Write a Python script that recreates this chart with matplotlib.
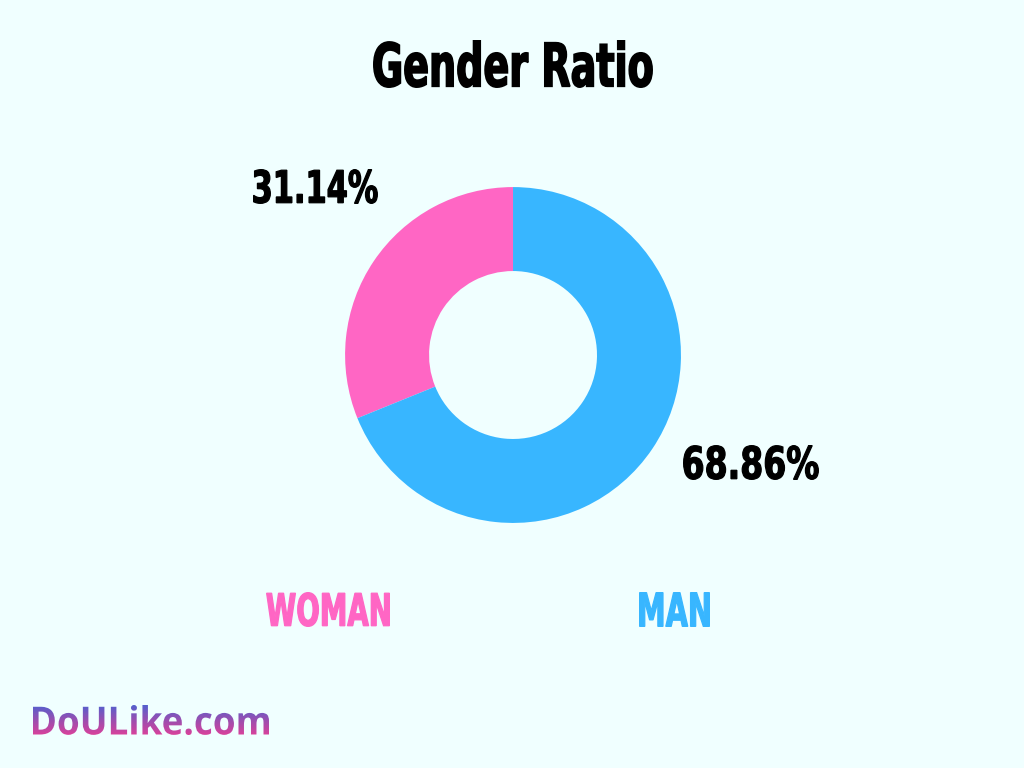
import numpy as np
import matplotlib
matplotlib.use("Agg")
import matplotlib.pyplot as plt
from matplotlib.textpath import TextPath
from matplotlib.font_manager import FontProperties
from matplotlib.patches import PathPatch
from matplotlib.transforms import Affine2D

labels = ["WOMAN", "MAN"]
shares = [31.14, 68.86]
colors = ["#ff66c4", "#38b6ff"]
bg = "#f0ffff"

fig = plt.figure(figsize=(10.24, 7.68), dpi=100, facecolor=bg)

# donut
ax = fig.add_axes([0.337, 0.319, 0.328, 0.4375])
ax.set_facecolor(bg)
ax.pie(shares, colors=colors, startangle=90, counterclock=True,
       radius=1.0, wedgeprops=dict(width=0.5, linewidth=0))
ax.set_xlim(-1, 1)
ax.set_ylim(-1, 1)
ax.set_aspect("equal")
ax.axis("off")

# overlay in pixel units for the condensed text
lax = fig.add_axes([0, 0, 1, 1], facecolor="none")
lax.set_xlim(0, 1024)
lax.set_ylim(768, 0)
lax.axis("off")

bold = FontProperties(family="DejaVu Sans", weight="bold")


def boxed_text(s, x0, x1, ytop, ybot, prop=bold):
    # text as a path squeezed into a pixel box (y measured from the top)
    tp = TextPath((0, 0), s, size=50, prop=prop)
    e = tp.get_extents()
    sx = (x1 - x0) / e.width
    sy = (ybot - ytop) / e.height
    tr = Affine2D().translate(-e.x0, -e.y0).scale(sx, -sy).translate(x0, ybot)
    return tp.transformed(tr)


def put(s, box, color, lw=0.9):
    x0, x1, ytop, ybot = box
    d = lw * 0.7  # keep the stroked outline inside the box
    p = PathPatch(boxed_text(s, x0 + d, x1 - d, ytop + d, ybot - d),
                  facecolor=color, edgecolor=color, linewidth=lw)
    lax.add_patch(p)
    return p


put("Gender Ratio", (373, 653, 40, 88), "black", 1.2)
put(f"{shares[0]:.2f}%", (253, 378, 169, 204), "black")
put(f"{shares[1]:.2f}%", (683, 819, 445, 480), "black")
put(labels[0], (266, 390, 592, 627), colors[0])
put(labels[1], (639, 710, 592, 627), colors[1])

# gradient logo
logo = FontProperties(family=["Open Sans", "DejaVu Sans"], weight="bold")
lp = PathPatch(boxed_text("DoULike.com", 33, 269, 705, 735, logo),
               facecolor="none", edgecolor="none")
lax.add_patch(lp)
cmap = matplotlib.colors.LinearSegmentedColormap.from_list("g", ["#4a62d2", "#9a4fb0", "#e23f98"])
grad = np.linspace(0, 1, 256).reshape(-1, 1)
im = lax.imshow(grad, extent=(25, 280, 737, 703), origin="upper", cmap=cmap, aspect="auto")
im.set_clip_path(lp)
lax.set_xlim(0, 1024)
lax.set_ylim(768, 0)

fig.savefig("out.png", dpi=100, facecolor=bg)
